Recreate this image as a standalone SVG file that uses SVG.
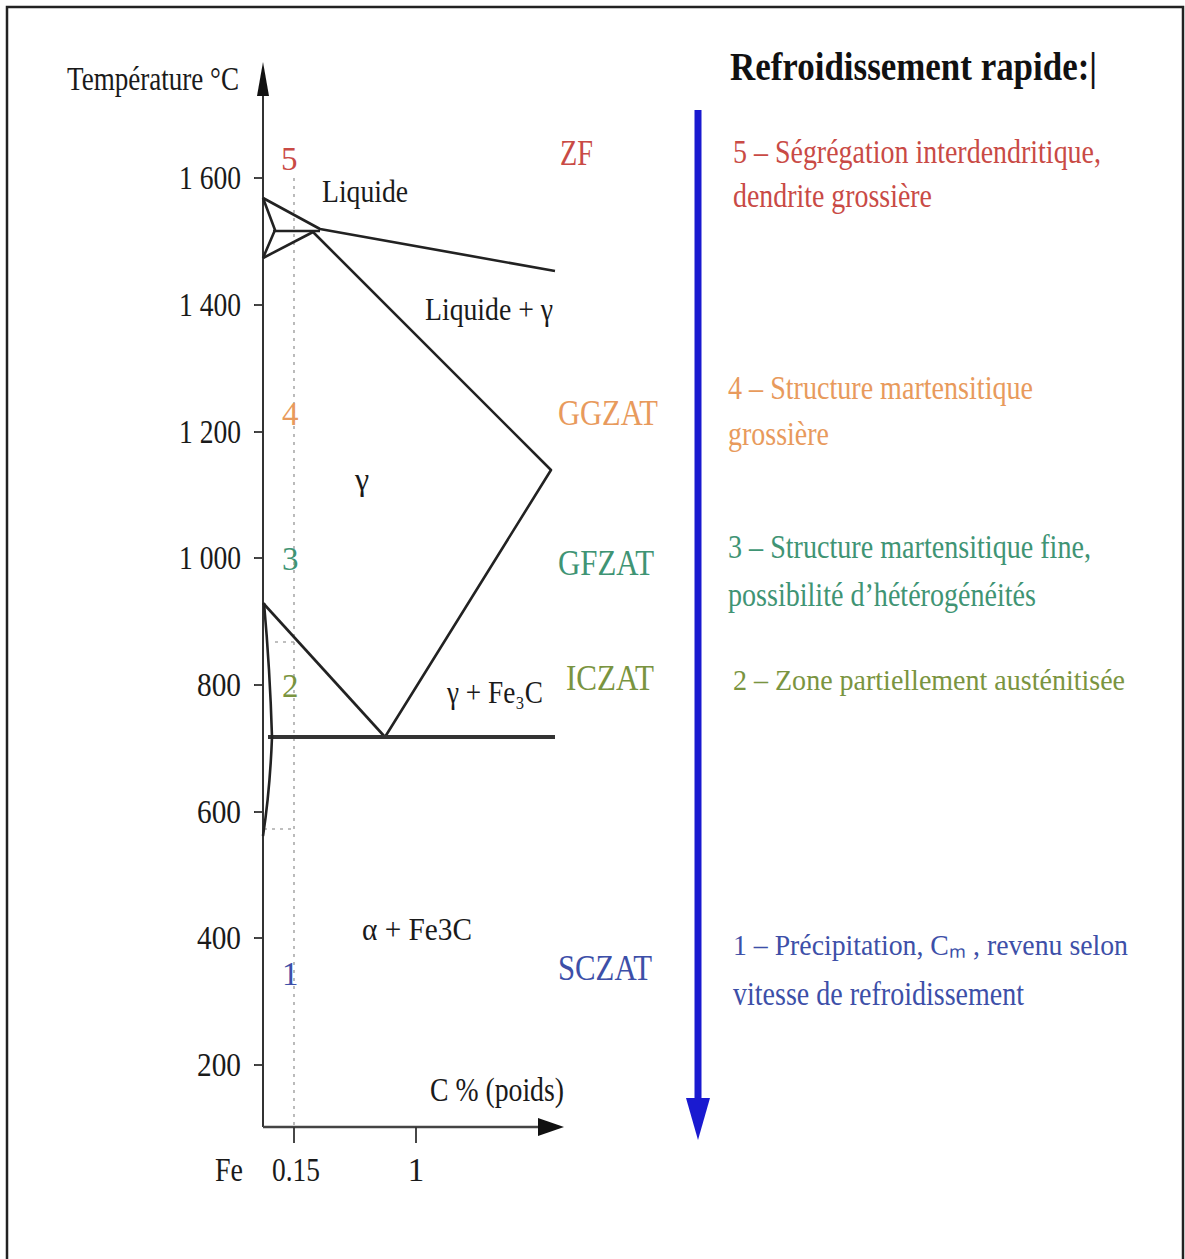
<svg xmlns="http://www.w3.org/2000/svg" width="1185" height="1259" viewBox="0 0 1185 1259">
<style>
text{font-family:"Liberation Serif","Times New Roman",serif;}
.ax{fill:#1a1a1a;font-size:33px;}
.lbl{fill:#1a1a1a;font-size:32px;}
.ph{fill:none;stroke:#222;stroke-width:2.6;stroke-linejoin:round;}
.red{fill:#c94a45;}
.org{fill:#e89a5c;}
.tea{fill:#3f9474;}
.olv{fill:#7a9440;}
.blu{fill:#3d4fa8;}
.zone{font-size:35px;}
.desc{font-size:33px;}
.descs{font-size:29px;}
</style>
<rect x="0" y="0" width="1185" height="1259" fill="#fff"/>
<rect x="7" y="7" width="1176" height="1262" fill="none" stroke="#222" stroke-width="2.5"/>

<g id="axes">
<line x1="263" y1="90" x2="263" y2="1127" stroke="#333" stroke-width="2"/>
<polygon points="263,62 257,96 269,96" fill="#111"/>
<line x1="263" y1="1127" x2="545" y2="1127" stroke="#444" stroke-width="2.5"/>
<polygon points="564,1127 538,1118 538,1136" fill="#111"/>
<g stroke="#333" stroke-width="1.8">
<line x1="254" y1="178" x2="263" y2="178"/>
<line x1="254" y1="305" x2="263" y2="305"/>
<line x1="254" y1="432" x2="263" y2="432"/>
<line x1="254" y1="558" x2="263" y2="558"/>
<line x1="254" y1="685" x2="263" y2="685"/>
<line x1="254" y1="812" x2="263" y2="812"/>
<line x1="254" y1="938" x2="263" y2="938"/>
<line x1="254" y1="1065" x2="263" y2="1065"/>
<line x1="294" y1="1127" x2="294" y2="1143"/>
<line x1="416" y1="1127" x2="416" y2="1143"/>
</g>
<text class="ax" x="67" y="90" textLength="172" lengthAdjust="spacingAndGlyphs">Température °C</text>
<g text-anchor="end">
<text class="ax" x="241" y="189" textLength="62" lengthAdjust="spacingAndGlyphs">1 600</text>
<text class="ax" x="241" y="316" textLength="62" lengthAdjust="spacingAndGlyphs">1 400</text>
<text class="ax" x="241" y="443" textLength="62" lengthAdjust="spacingAndGlyphs">1 200</text>
<text class="ax" x="241" y="569" textLength="62" lengthAdjust="spacingAndGlyphs">1 000</text>
<text class="ax" x="241" y="696" textLength="44" lengthAdjust="spacingAndGlyphs">800</text>
<text class="ax" x="241" y="823" textLength="44" lengthAdjust="spacingAndGlyphs">600</text>
<text class="ax" x="241" y="949" textLength="44" lengthAdjust="spacingAndGlyphs">400</text>
<text class="ax" x="241" y="1076" textLength="44" lengthAdjust="spacingAndGlyphs">200</text>
</g>
<text class="ax" x="215" y="1181" textLength="28" lengthAdjust="spacingAndGlyphs">Fe</text>
<text class="ax" x="272" y="1181" textLength="48" lengthAdjust="spacingAndGlyphs">0.15</text>
<text class="ax" x="416" y="1181" text-anchor="middle">1</text>
<text class="ax" x="430" y="1101" textLength="134" lengthAdjust="spacingAndGlyphs">C % (poids)</text>
</g>

<g id="guides" stroke="#aaa" stroke-width="1.6" stroke-dasharray="3,5" fill="none">
<line x1="294" y1="178" x2="294" y2="1125"/>
<line x1="264" y1="829" x2="294" y2="829"/>
<line x1="275" y1="642" x2="294" y2="642"/>
</g>

<g id="connectors">
<polyline class="ph" points="263,198 320,229 555,271"/>
<polyline class="ph" points="263,198 275,230 263,258"/>
<line class="ph" x1="273" y1="231" x2="320" y2="231"/>
<line class="ph" x1="263" y1="258" x2="313" y2="232"/>
<polyline class="ph" points="313,232 551,470 385,737"/>
<line class="ph" x1="263" y1="603" x2="385" y2="737"/>
<line x1="268" y1="737" x2="555" y2="737" stroke="#333" stroke-width="4"/>
<path class="ph" d="M264,603 Q270,670 272,737 Q270,790 263,836"/>
</g>

<g id="phase-labels">
<text class="lbl" x="322" y="202" textLength="86" lengthAdjust="spacingAndGlyphs">Liquide</text>
<text class="lbl" x="425" y="320" textLength="128" lengthAdjust="spacingAndGlyphs">Liquide + γ</text>
<text class="lbl" x="355" y="490" font-size="24">γ</text>
<text class="lbl" x="447" y="703" textLength="96" lengthAdjust="spacingAndGlyphs">γ + Fe₃C</text>
<text class="lbl" x="362" y="940" textLength="110" lengthAdjust="spacingAndGlyphs">α + Fe3C</text>
</g>

<g id="zone-numbers" font-size="33">
<text class="red" x="281" y="170">5</text>
<text class="org" x="282" y="425">4</text>
<text class="tea" x="282" y="570">3</text>
<text class="olv" x="282" y="697">2</text>
<text class="blu" x="282" y="985">1</text>
</g>

<g id="zone-labels">
<text class="zone red" x="560" y="165" textLength="33" lengthAdjust="spacingAndGlyphs">ZF</text>
<text class="zone org" x="558" y="425" textLength="100" lengthAdjust="spacingAndGlyphs">GGZAT</text>
<text class="zone tea" x="558" y="575" textLength="96" lengthAdjust="spacingAndGlyphs">GFZAT</text>
<text class="zone olv" x="566" y="690" textLength="88" lengthAdjust="spacingAndGlyphs">ICZAT</text>
<text class="zone blu" x="558" y="980" textLength="94" lengthAdjust="spacingAndGlyphs">SCZAT</text>
</g>

<g id="cooling-arrow">
<line x1="698" y1="110" x2="698" y2="1104" stroke="#1a1ad0" stroke-width="7"/>
<polygon points="686,1098 710,1098 698,1140" fill="#1a1ad0"/>
</g>

<g id="title">
<text x="730" y="80" font-size="39" font-weight="bold" fill="#111" textLength="367" lengthAdjust="spacingAndGlyphs">Refroidissement rapide:|</text>
</g>

<g id="descriptions">
<text class="desc red" x="733" y="163" textLength="368" lengthAdjust="spacingAndGlyphs">5 – Ségrégation interdendritique,</text>
<text class="desc red" x="733" y="207" textLength="199" lengthAdjust="spacingAndGlyphs">dendrite grossière</text>
<text class="desc org" x="728" y="399" textLength="305" lengthAdjust="spacingAndGlyphs">4 – Structure martensitique</text>
<text class="desc org" x="728" y="445" textLength="101" lengthAdjust="spacingAndGlyphs">grossière</text>
<text class="desc tea" x="728" y="558" textLength="363" lengthAdjust="spacingAndGlyphs">3 – Structure martensitique fine,</text>
<text class="desc tea" x="728" y="606" textLength="308" lengthAdjust="spacingAndGlyphs">possibilité d’hétérogénéités</text>
<text class="descs olv" x="733" y="690" textLength="392" lengthAdjust="spacingAndGlyphs">2 – Zone partiellement austénitisée</text>
<text class="descs blu" x="733" y="955" textLength="395" lengthAdjust="spacingAndGlyphs">1 – Précipitation, Cₘ , revenu selon</text>
<text class="desc blu" x="733" y="1005" textLength="291" lengthAdjust="spacingAndGlyphs">vitesse de refroidissement</text>
</g>
</svg>
